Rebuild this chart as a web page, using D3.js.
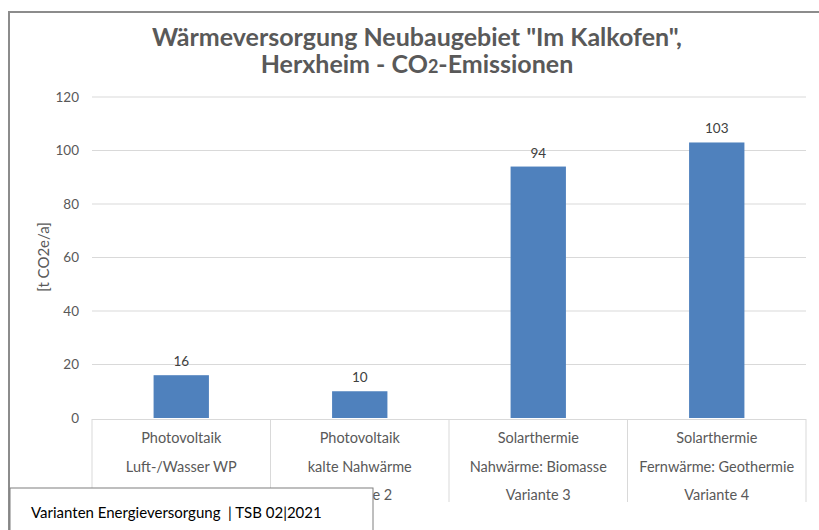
<!DOCTYPE html>
<html>
<head>
<meta charset="utf-8">
<script src="https://cdn.jsdelivr.net/npm/d3@7"></script>
<style>
  body { margin: 0; background: #fff; }
  text { font-family: Lato, "Open Sans", sans-serif; }
</style>
</head>
<body>
<div id="chart"></div>
<script>
// Chart data
var varianten = ["Variante 1", "Variante 2", "Variante 3", "Variante 4"];
var zeile1 = ["Photovoltaik", "Photovoltaik", "Solarthermie", "Solarthermie"];
var zeile2 = ["Luft-/Wasser WP", "kalte Nahwärme", "Nahwärme: Biomasse", "Fernwärme: Geothermie"];
var emissionen = [16, 10, 94, 103];
var yTicks = [0, 20, 40, 60, 80, 100, 120];

var width = 819;
var height = 530;

var svg = d3.select("#chart")
    .append("svg")
    .attr("width", width)
    .attr("height", height);

// outer frame of the chart object
svg.append("rect")
    .attr("x", 9)
    .attr("y", 12)
    .attr("width", 830)
    .attr("height", 540)
    .attr("fill", "#fff")
    .attr("stroke", "#8c8c8c")
    .attr("stroke-width", 2);

// title
var title = svg.append("text")
    .attr("text-anchor", "middle")
    .attr("fill", "#595959")
    .style("font-size", "25px")
    .style("font-weight", "bold");
title.append("tspan").attr("x", 417).attr("y", 46)
    .text('Wärmeversorgung Neubaugebiet "Im Kalkofen",');
var t2 = title.append("tspan").attr("x", 417).attr("y", 73);
t2.append("tspan").text("Herxheim - CO");
t2.append("tspan").style("font-size", "18px").text("2");
t2.append("tspan").text("-Emissionen");

// scales
var x = d3.scaleBand()
    .domain(varianten)
    .range([92, 806])
    .paddingInner(0.69)
    .paddingOuter(0.345);

var xCat = d3.scaleBand()
    .domain(varianten)
    .range([92, 806]);

var y = d3.scaleLinear()
    .domain([0, 120])
    .range([418, 97]);

// gridlines
svg.append("g")
    .selectAll("line")
    .data(yTicks.filter(function (d) { return d > 0; }))
    .enter().append("line")
    .attr("x1", 92)
    .attr("x2", 806)
    .attr("y1", function (d) { return y(d); })
    .attr("y2", function (d) { return y(d); })
    .attr("stroke", "#d9d9d9")
    .attr("stroke-width", 1);

// y tick labels
svg.append("g")
    .selectAll("text")
    .data(yTicks)
    .enter().append("text")
    .attr("x", 79)
    .attr("y", function (d) { return y(d); })
    .attr("dy", "0.35em")
    .attr("text-anchor", "end")
    .attr("fill", "#595959")
    .style("font-size", "13.5px")
    .text(function (d) { return d; });

// y axis title
svg.append("text")
    .attr("transform", "translate(49,257) rotate(-90)")
    .attr("text-anchor", "middle")
    .attr("fill", "#595959")
    .style("font-size", "15px")
    .text("[t CO2e/a]");

// bars
svg.append("g")
    .selectAll("rect")
    .data(emissionen)
    .enter().append("rect")
    .attr("x", function (d, i) { return x(varianten[i]); })
    .attr("y", function (d) { return y(d); })
    .attr("width", x.bandwidth())
    .attr("height", function (d) { return y(0) - y(d); })
    .attr("fill", "#4f81bd");

// value labels
svg.append("g")
    .selectAll("text")
    .data(emissionen)
    .enter().append("text")
    .attr("x", function (d, i) { return x(varianten[i]) + x.bandwidth() / 2; })
    .attr("y", function (d) { return y(d) - 9; })
    .attr("text-anchor", "middle")
    .attr("fill", "#404040")
    .style("font-size", "13.5px")
    .text(function (d) { return d; });

// category axis: baseline + separators
svg.append("line")
    .attr("x1", 92).attr("x2", 806)
    .attr("y1", 419.5).attr("y2", 419.5)
    .attr("stroke", "#d9d9d9");

svg.append("g")
    .selectAll("line")
    .data(varianten.concat(["end"]))
    .enter().append("line")
    .attr("x1", function (d, i) { return i < 4 ? xCat(d) : 806; })
    .attr("x2", function (d, i) { return i < 4 ? xCat(d) : 806; })
    .attr("y1", 419)
    .attr("y2", 502)
    .attr("stroke", "#d9d9d9");

// category labels, three lines each
var cats = svg.append("g")
    .selectAll("text")
    .data(varianten)
    .enter().append("text")
    .attr("text-anchor", "middle")
    .attr("fill", "#595959")
    .style("font-size", "14.5px");

cats.append("tspan")
    .attr("x", function (d) { return xCat(d) + xCat.bandwidth() / 2; })
    .attr("y", 443)
    .text(function (d, i) { return zeile1[i]; });
cats.append("tspan")
    .attr("x", function (d) { return xCat(d) + xCat.bandwidth() / 2; })
    .attr("y", 472)
    .text(function (d, i) { return zeile2[i]; });
cats.append("tspan")
    .attr("x", function (d) { return xCat(d) + xCat.bandwidth() / 2; })
    .attr("y", 500)
    .text(function (d) { return d; });

// footer box over the chart
svg.append("rect")
    .attr("x", 10)
    .attr("y", 488)
    .attr("width", 363)
    .attr("height", 50)
    .attr("fill", "#fff")
    .attr("stroke", "#7f7f7f")
    .attr("stroke-width", 1);

svg.append("text")
    .attr("x", 31)
    .attr("y", 518)
    .attr("fill", "#000")
    .attr("xml:space", "preserve")
    .style("font-size", "15px")
    .text("Varianten Energieversorgung\u00a0\u00a0| TSB 02|2021");
</script>
</body>
</html>
